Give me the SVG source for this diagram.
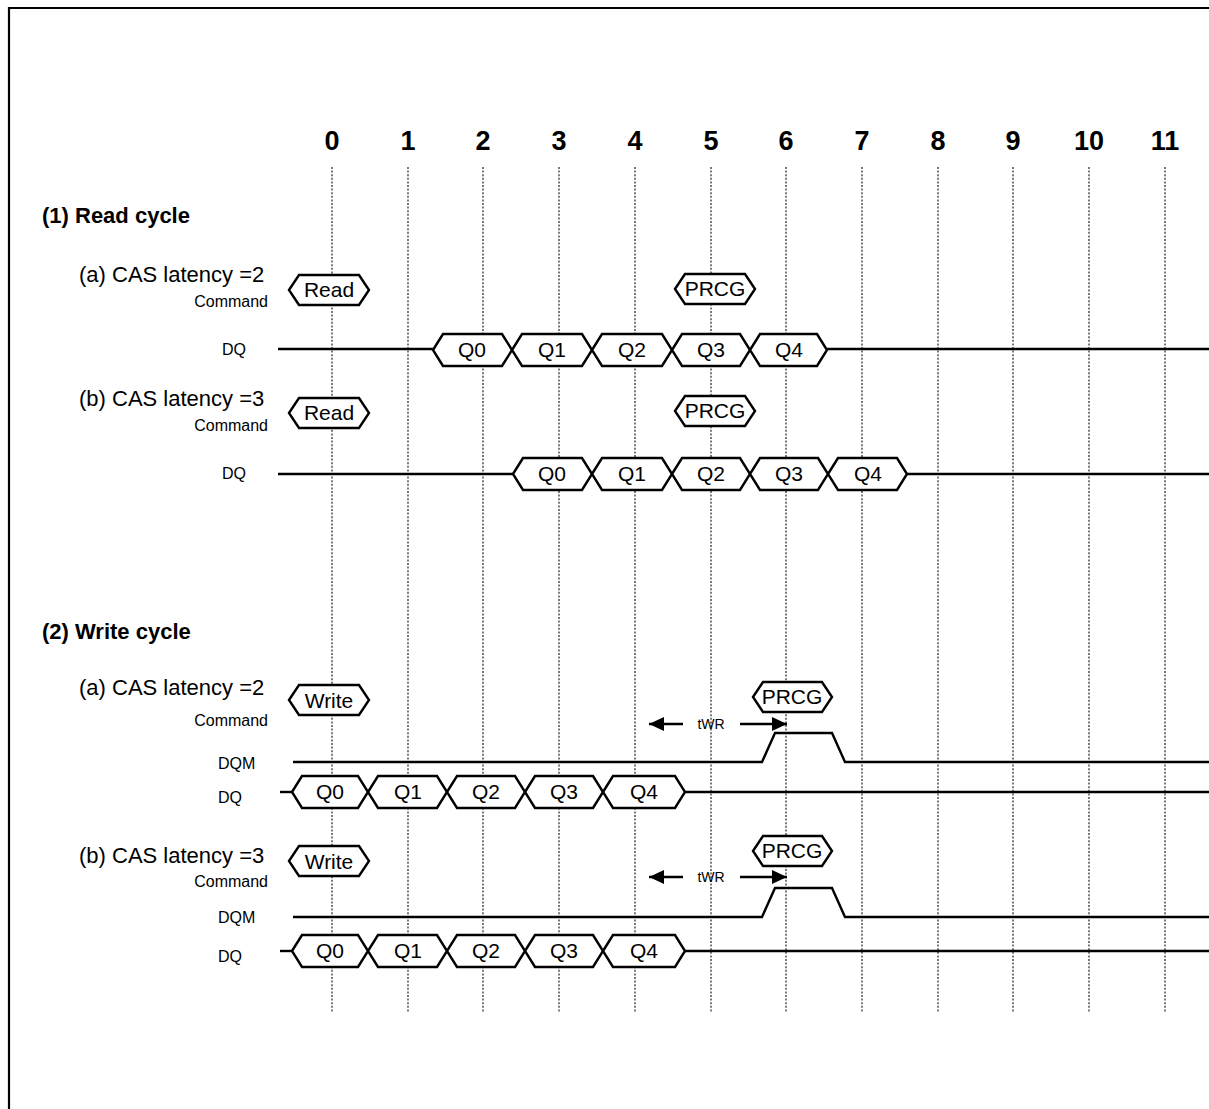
<svg xmlns="http://www.w3.org/2000/svg" width="1209" height="1109" viewBox="0 0 1209 1109">
<style>
text{font-family:"Liberation Sans",Arial,sans-serif;fill:#000}
.num{font-size:27px;font-weight:bold;text-anchor:middle}
.sec{font-size:22px;font-weight:bold}
.cas{font-size:22px}
.cmd{font-size:16px;text-anchor:end}
.sig{font-size:16px}
.lbl{font-size:21px;text-anchor:middle}
.twr{font-size:14px;text-anchor:middle}
.grid{stroke:#222;stroke-width:1.2;stroke-dasharray:2,1.6;fill:none}
.wire{stroke:#000;stroke-width:2.4;fill:none}
.hex{stroke:#000;stroke-width:2.4;fill:#fff;stroke-linejoin:miter}
</style>
<defs>
<marker id="ah" viewBox="0 0 15 14" refX="15" refY="7" markerWidth="15" markerHeight="14" markerUnits="userSpaceOnUse" orient="auto">
<path d="M0,0 L15,7 L0,14 Z" fill="#000"/>
</marker>
</defs>
<rect x="0" y="0" width="1209" height="1109" fill="#fff"/>
<path d="M9,1109 L9,8 L1209,8" fill="none" stroke="#000" stroke-width="2.2"/>
<g id="grid">
<line class="grid" x1="332" y1="167" x2="332" y2="1012"/>
<line class="grid" x1="408" y1="167" x2="408" y2="1012"/>
<line class="grid" x1="483" y1="167" x2="483" y2="1012"/>
<line class="grid" x1="559" y1="167" x2="559" y2="1012"/>
<line class="grid" x1="635" y1="167" x2="635" y2="1012"/>
<line class="grid" x1="711" y1="167" x2="711" y2="1012"/>
<line class="grid" x1="786" y1="167" x2="786" y2="1012"/>
<line class="grid" x1="862" y1="167" x2="862" y2="1012"/>
<line class="grid" x1="938" y1="167" x2="938" y2="1012"/>
<line class="grid" x1="1013" y1="167" x2="1013" y2="1012"/>
<line class="grid" x1="1089" y1="167" x2="1089" y2="1012"/>
<line class="grid" x1="1165" y1="167" x2="1165" y2="1012"/>
</g>
<g id="clock-numbers">
<text class="num" x="332" y="150">0</text>
<text class="num" x="408" y="150">1</text>
<text class="num" x="483" y="150">2</text>
<text class="num" x="559" y="150">3</text>
<text class="num" x="635" y="150">4</text>
<text class="num" x="711" y="150">5</text>
<text class="num" x="786" y="150">6</text>
<text class="num" x="862" y="150">7</text>
<text class="num" x="938" y="150">8</text>
<text class="num" x="1013" y="150">9</text>
<text class="num" x="1089" y="150">10</text>
<text class="num" x="1165" y="150">11</text>
</g>
<g id="labels">
<text class="sec" x="42" y="223">(1) Read cycle</text>
<text class="cas" x="79" y="282">(a) CAS latency =2</text>
<text class="cmd" x="268" y="307">Command</text>
<text class="sig" x="222" y="355">DQ</text>
<text class="cas" x="79" y="406">(b) CAS latency =3</text>
<text class="cmd" x="268" y="431">Command</text>
<text class="sig" x="222" y="479">DQ</text>
<text class="sec" x="42" y="639">(2) Write cycle</text>
<text class="cas" x="79" y="695">(a) CAS latency =2</text>
<text class="cmd" x="268" y="726">Command</text>
<text class="sig" x="218" y="769">DQM</text>
<text class="sig" x="218" y="803">DQ</text>
<text class="cas" x="79" y="863">(b) CAS latency =3</text>
<text class="cmd" x="268" y="887">Command</text>
<text class="sig" x="218" y="923">DQM</text>
<text class="sig" x="218" y="962">DQ</text>
</g>
<g id="wires">
<line class="wire" x1="278" y1="349" x2="433" y2="349"/>
<line class="wire" x1="827" y1="349" x2="1209" y2="349"/>
<line class="wire" x1="278" y1="474" x2="513" y2="474"/>
<line class="wire" x1="907" y1="474" x2="1209" y2="474"/>
<polyline class="wire" points="293,762 762,762 775,733 832,733 845,762 1209,762"/>
<line class="wire" x1="280" y1="792" x2="292" y2="792"/>
<line class="wire" x1="685" y1="792" x2="1209" y2="792"/>
<polyline class="wire" points="293,917 762,917 775,888 832,888 845,917 1209,917"/>
<line class="wire" x1="280" y1="951" x2="292" y2="951"/>
<line class="wire" x1="685" y1="951" x2="1209" y2="951"/>
<line class="wire" x1="683" y1="724" x2="649" y2="724" marker-end="url(#ah)"/>
<line class="wire" x1="740" y1="724" x2="787" y2="724" marker-end="url(#ah)"/>
<line class="wire" x1="683" y1="877" x2="649" y2="877" marker-end="url(#ah)"/>
<line class="wire" x1="740" y1="877" x2="787" y2="877" marker-end="url(#ah)"/>
<text class="twr" x="711" y="729">tWR</text>
<text class="twr" x="711" y="882">tWR</text>
</g>
<g id="read-a-cmd">
<polygon class="hex" points="289,290 299,275 359,275 369,290 359,305 299,305"/>
<text class="lbl" x="329" y="297">Read</text>
</g>
<g id="read-a-prcg">
<polygon class="hex" points="675,289 685,274 745,274 755,289 745,304 685,304"/>
<text class="lbl" x="715" y="296">PRCG</text>
</g>
<g id="read-a-dq">
<polygon class="hex" points="433,350 443,334 502,334 512,350 502,366 443,366"/>
<text class="lbl" x="472" y="357">Q0</text>
<polygon class="hex" points="512,350 522,334 582,334 592,350 582,366 522,366"/>
<text class="lbl" x="552" y="357">Q1</text>
<polygon class="hex" points="592,350 602,334 662,334 672,350 662,366 602,366"/>
<text class="lbl" x="632" y="357">Q2</text>
<polygon class="hex" points="672,350 682,334 740,334 750,350 740,366 682,366"/>
<text class="lbl" x="711" y="357">Q3</text>
<polygon class="hex" points="750,350 760,334 817,334 827,350 817,366 760,366"/>
<text class="lbl" x="789" y="357">Q4</text>
</g>
<g id="read-b-cmd">
<polygon class="hex" points="289,413 299,398 359,398 369,413 359,428 299,428"/>
<text class="lbl" x="329" y="420">Read</text>
</g>
<g id="read-b-prcg">
<polygon class="hex" points="675,411 685,396 745,396 755,411 745,426 685,426"/>
<text class="lbl" x="715" y="418">PRCG</text>
</g>
<g id="read-b-dq">
<polygon class="hex" points="513,474 523,458 582,458 592,474 582,490 523,490"/>
<text class="lbl" x="552" y="481">Q0</text>
<polygon class="hex" points="592,474 602,458 662,458 672,474 662,490 602,490"/>
<text class="lbl" x="632" y="481">Q1</text>
<polygon class="hex" points="672,474 682,458 740,458 750,474 740,490 682,490"/>
<text class="lbl" x="711" y="481">Q2</text>
<polygon class="hex" points="750,474 760,458 818,458 828,474 818,490 760,490"/>
<text class="lbl" x="789" y="481">Q3</text>
<polygon class="hex" points="828,474 838,458 897,458 907,474 897,490 838,490"/>
<text class="lbl" x="868" y="481">Q4</text>
</g>
<g id="write-a-cmd">
<polygon class="hex" points="289,700 299,685 359,685 369,700 359,715 299,715"/>
<text class="lbl" x="329" y="708">Write</text>
</g>
<g id="write-a-prcg">
<polygon class="hex" points="753,697 763,682 822,682 832,697 822,712 763,712"/>
<text class="lbl" x="792" y="704">PRCG</text>
</g>
<g id="write-a-dq">
<polygon class="hex" points="292,792 302,776 358,776 368,792 358,808 302,808"/>
<text class="lbl" x="330" y="799">Q0</text>
<polygon class="hex" points="368,792 378,776 437,776 447,792 437,808 378,808"/>
<text class="lbl" x="408" y="799">Q1</text>
<polygon class="hex" points="447,792 457,776 515,776 525,792 515,808 457,808"/>
<text class="lbl" x="486" y="799">Q2</text>
<polygon class="hex" points="525,792 535,776 593,776 603,792 593,808 535,808"/>
<text class="lbl" x="564" y="799">Q3</text>
<polygon class="hex" points="603,792 613,776 675,776 685,792 675,808 613,808"/>
<text class="lbl" x="644" y="799">Q4</text>
</g>
<g id="write-b-cmd">
<polygon class="hex" points="289,861 299,846 359,846 369,861 359,876 299,876"/>
<text class="lbl" x="329" y="869">Write</text>
</g>
<g id="write-b-prcg">
<polygon class="hex" points="753,851 763,836 822,836 832,851 822,866 763,866"/>
<text class="lbl" x="792" y="858">PRCG</text>
</g>
<g id="write-b-dq">
<polygon class="hex" points="292,951 302,935 358,935 368,951 358,967 302,967"/>
<text class="lbl" x="330" y="958">Q0</text>
<polygon class="hex" points="368,951 378,935 437,935 447,951 437,967 378,967"/>
<text class="lbl" x="408" y="958">Q1</text>
<polygon class="hex" points="447,951 457,935 515,935 525,951 515,967 457,967"/>
<text class="lbl" x="486" y="958">Q2</text>
<polygon class="hex" points="525,951 535,935 593,935 603,951 593,967 535,967"/>
<text class="lbl" x="564" y="958">Q3</text>
<polygon class="hex" points="603,951 613,935 675,935 685,951 675,967 613,967"/>
<text class="lbl" x="644" y="958">Q4</text>
</g>
</svg>
